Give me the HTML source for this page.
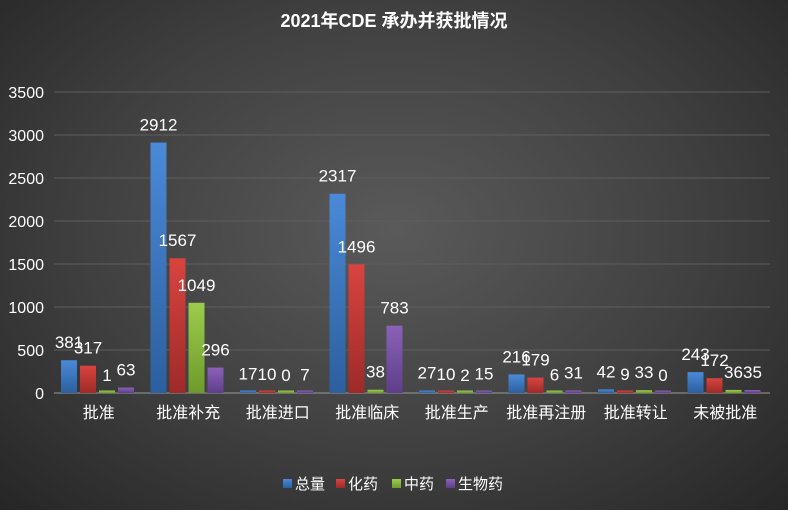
<!DOCTYPE html>
<html><head><meta charset="utf-8"><style>
body{margin:0;width:788px;height:510px;overflow:hidden;}
#c{width:788px;height:510px;background:radial-gradient(ellipse at 50% 45%,#5a5a5a 0%,#404040 55%,#262626 100%);position:relative;}
svg{font-family:"Liberation Sans","Noto Sans CJK SC",sans-serif;}
</style></head><body>
<div id="c">
<svg id="s" width="788" height="510">
<text x="394" y="27" text-anchor="middle" fill="#fff" font-size="18" font-weight="bold">2021年CDE 承办并获批情况</text>
</svg></div>
<script>
const categories=["批准","批准补充","批准进口","批准临床","批准生产","批准再注册","批准转让","未被批准"];
const seriesNames=["总量","化药","中药","生物药"];
const total=[381,2912,17,2317,27,216,42,243];
const chem=[317,1567,10,1496,10,179,9,172];
const tcm=[1,1049,0,38,2,6,33,36];
const bio=[63,296,7,783,15,31,0,35];
const yTicks=[0,500,1000,1500,2000,2500,3000,3500];
const colors=[["#4a8ad8","#2c5f9e"],["#d84440","#9e2a28"],["#9ccc4c","#6e9a2c"],["#8a62b8","#5e3e8a"]];
const s=document.getElementById('s');const NS="http://www.w3.org/2000/svg";
const L=54,R=770,Y0=393,YT=92,YMAX=3500;
const y=v=>Y0-(v/YMAX)*(Y0-YT);
const cw=(R-L)/categories.length;
const x=(i,j)=>L+i*cw+7+j*19;
function mk(t,a){const e=document.createElementNS(NS,t);for(const k in a)e.setAttribute(k,a[k]);s.appendChild(e);return e;}
const defs=mk('defs',{});
colors.forEach((c,j)=>{const g=document.createElementNS(NS,'linearGradient');g.setAttribute('id','g'+j);g.setAttribute('x1','0');g.setAttribute('x2','0');g.setAttribute('y1','0');g.setAttribute('y2','1');
g.innerHTML=`<stop offset="0" stop-color="${c[0]}"/><stop offset="1" stop-color="${c[1]}"/>`;defs.appendChild(g);});
yTicks.forEach(t=>{
const l=mk('line',{x1:L,x2:R,y1:y(t),y2:y(t),stroke:t===0?'#999':'#5e5e5e','stroke-width':1});


const tx=mk('text',{x:44,y:y(t)+6,'text-anchor':'end',fill:'#fff','font-size':16});tx.textContent=t;


});
const series=[total,chem,tcm,bio];
categories.forEach((c,i)=>{
const t=mk('text',{x:L+cw*(i+0.5),y:418,'text-anchor':'middle',fill:'#fff','font-size':16});t.textContent=c;


series.forEach((arr,j)=>{const v=arr[i];const top=Math.min(y(v),Y0-2.5);
const r=mk('rect',{x:x(i,j),y:top,width:16,height:Y0-top,fill:`url(#g${j})`});


const lb=mk('text',{x:x(i,j)+8,y:y(v)-12,'text-anchor':'middle',fill:'#fff','font-size':17});lb.textContent=v;


});});
const lx=[283,336,392,446];
seriesNames.forEach((n,j)=>{
const r=mk('rect',{x:lx[j],y:479,width:9,height:9,fill:`url(#g${j})`});


const t=mk('text',{x:lx[j]+12,y:489,fill:'#fff','font-size':15});t.textContent=n;


});
</script></body></html>
